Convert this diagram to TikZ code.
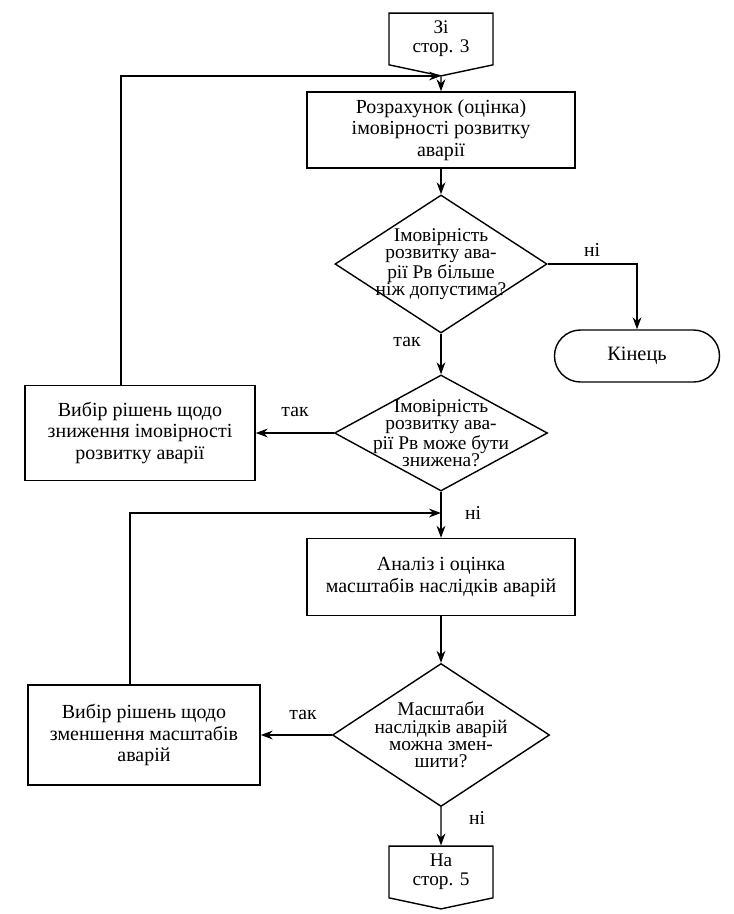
\documentclass[tikz,border=0pt]{standalone}
\usepackage{fontspec}
\setmainfont{Liberation Serif}
\usetikzlibrary{arrows.meta,positioning,shapes.geometric,shapes.symbols}
\tikzset{
  % plain process block
  blk/.style   = {rectangle, draw, line width=1pt, align=center, inner sep=2pt,
                  font=\fontsize{14.2}{15.2}\selectfont},
  % decision, text may run close to the edges
  dec/.style   = {diamond, draw, line width=1pt, align=center, inner sep=-20pt,
                  font=\fontsize{13.8}{12.3}\selectfont},
  term/.style  = {rectangle, rounded corners=0.65cm, draw, line width=1pt,
                  minimum width=4.125cm, minimum height=1.3cm,
                  font=\fontsize{14.5}{15}\selectfont},
  page/.style  = {signal, signal to=south, signal pointer angle=156, draw, line width=1pt,
                  align=center, inner sep=1pt, minimum width=2.6cm, minimum height=1.45cm,
                  font=\fontsize{13.7}{13.5}\selectfont},
  arr/.style   = {-{Stealth[length=3mm,width=2.2mm]}, line width=1pt},
  lbl/.style   = {font=\fontsize{14}{15}\selectfont},
}
\begin{document}
\begin{tikzpicture}[x=0.025cm,y=-0.025cm]
\useasboundingbox (0,0) rectangle (734,914);
% main column
\node[page] (from) at (441,39) {Зі\\стор. 3};
\node[blk, minimum width=6.7cm, minimum height=1.9cm] (calc) at (441,130)
  {Розрахунок (оцінка)\\імовірності розвитку\\аварії};
\node[dec, minimum width=5.3cm, minimum height=3.45cm] (dec1) at (441,264)
  {Імовірність\\розвитку ава-\\рії Рв більше\\ніж допустима?};
\node[term] (fin) at (637,356) {Кінець};
\node[dec, minimum width=5.325cm, minimum height=2.9cm] (dec2) at (441,433)
  {Імовірність\\розвитку ава-\\рії Рв може бути\\знижена?};
\node[blk, minimum width=5.75cm, minimum height=2.375cm] (sel1) at (140,433)
  {Вибір рішень щодо\\зниження імовірності\\розвитку аварії};
\node[blk, minimum width=6.7cm, minimum height=1.925cm] (anal) at (441,577)
  {Аналіз і оцінка\\масштабів наслідків аварій};
\node[dec, minimum width=5.425cm, minimum height=3.575cm] (dec3) at (441,735)
  {Масштаби\\наслідків аварій\\можна змен-\\шити?};
\node[blk, minimum width=5.8cm, minimum height=2.5cm] (sel2) at (144,735)
  {Вибір рішень щодо\\зменшення масштабів\\аварій};
\node[page] (to) at (441,872) {На\\стор. 5};
% connectors
\draw[arr] (from) -- (calc);
\draw[arr] (calc) -- (dec1);
\draw[arr] (dec1.east) -| (fin.north);
\draw[arr] (dec1) -- (dec2);
\draw[arr] (dec2.west) -- (sel1.east);
\draw[arr] (dec2) -- (anal);
\draw[arr] (anal) -- (dec3);
\draw[arr] (dec3.west) -- (sel2.east);
\draw[arr] (dec3) -- (to);
% loops back
\coordinate (ret1) at (121,76);
\coordinate (ret2) at (130,513);
\draw[arr] (sel1.north -| ret1) -- (ret1) -- (ret1 -| calc.north);
\draw[arr] (sel2.north -| ret2) -- (ret2) -- (ret2 -| anal.north);
% branch labels
\node[lbl] (no1)  at (592,250) {ні};
\node[lbl] (yes1) at (407,342) {так};
\node[lbl] (yes2) at (295,412) {так};
\node[lbl] (no2)  at (473,513) {ні};
\node[lbl] (yes3) at (303,715) {так};
\node[lbl] (no3)  at (477,818) {ні};
\end{tikzpicture}
\end{document}
